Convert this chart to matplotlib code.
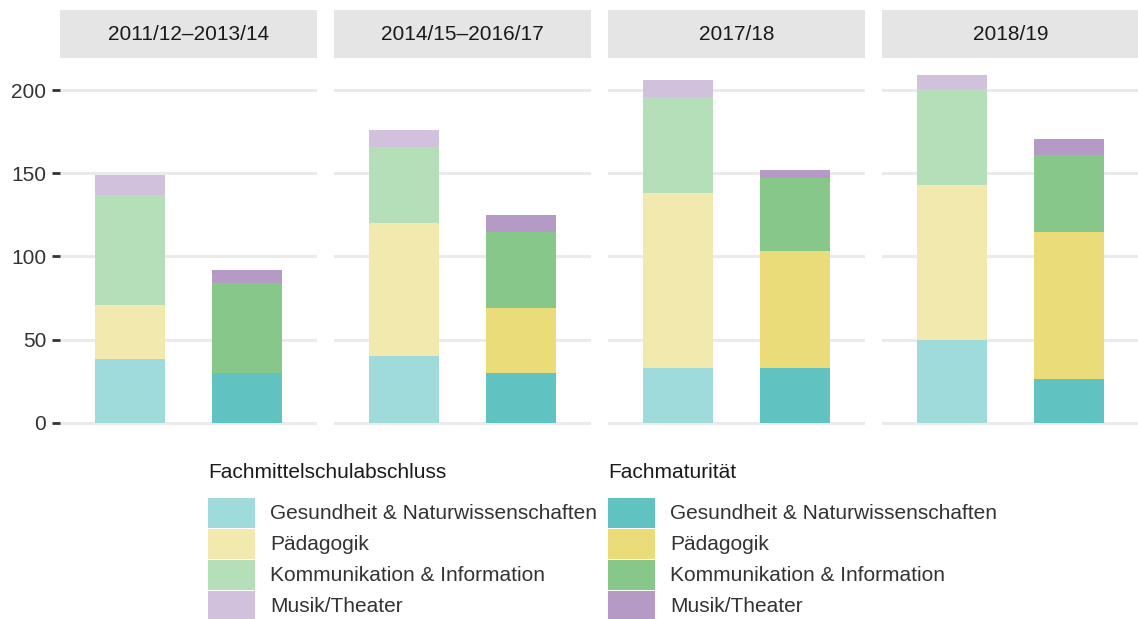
"""Fachmittelschulabschluss vs. Fachmaturität by period and field."""

import matplotlib.pyplot as plt
from matplotlib.patches import Rectangle

plt.rcParams["font.family"] = ["Liberation Sans", "DejaVu Sans"]

periods = ["2011/12–2013/14", "2014/15–2016/17", "2017/18", "2018/19"]
fields = [
    "Gesundheit & Naturwissenschaften",
    "Pädagogik",
    "Kommunikation & Information",
    "Musik/Theater",
]
groups = ["Fachmittelschulabschluss", "Fachmaturität"]

# values per period, stacked bottom to top in order of `fields`
fms_values = [
    [38, 33, 66, 12],
    [40, 80, 46, 10],
    [33, 105, 58, 10],
    [50, 93, 58, 8],
]
fm_values = [
    [30, 0, 54, 8],
    [30, 39, 46, 10],
    [33, 70, 44, 5],
    [26, 89, 46, 10],
]

fms_colors = ["#a0dbdb", "#f2e9ae", "#b4dfb8", "#d2c1dc"]
fm_colors = ["#61c2c2", "#ebdc7a", "#87c78a", "#b49ac4"]

FS = 15
W, H = 1138, 619
fig = plt.figure(figsize=(W / 100, H / 100), dpi=100)

panel_left = [60, 334, 608, 882]
panel_w = 257
panel_top, panel_bottom = 58, 440
strip_top = 10

ymax = max(sum(v) for v in fms_values + fm_values)
ylo, yhi = -0.05 * ymax, 1.05 * ymax

for i, period in enumerate(periods):
    x0 = panel_left[i]
    ax = fig.add_axes([x0 / W, 1 - panel_bottom / H, panel_w / W,
                       (panel_bottom - panel_top) / H])
    for j, (vals, cols) in enumerate(((fms_values[i], fms_colors),
                                      (fm_values[i], fm_colors))):
        bottom = 0
        for v, c in zip(vals, cols):
            ax.bar(j + 1, v, width=0.6, bottom=bottom, color=c, linewidth=0)
            bottom += v
    ax.set_xlim(0.4, 2.6)
    ax.set_ylim(ylo, yhi)
    ax.set_yticks([0, 50, 100, 150, 200])
    ax.set_xticks([])
    ax.grid(axis="y", color="#ebebeb", linewidth=2.2)
    ax.set_axisbelow(True)
    for s in ax.spines.values():
        s.set_visible(False)
    if i == 0:
        ax.tick_params(axis="y", length=6, width=2, color="#333333",
                       labelsize=FS, labelcolor="#333333", pad=4)
    else:
        ax.tick_params(axis="y", length=0, labelleft=False)

    # facet strip
    sax = fig.add_axes([x0 / W, 1 - panel_top / H, panel_w / W,
                        (panel_top - strip_top) / H])
    sax.set_facecolor("#e5e5e5")
    sax.set_xticks([])
    sax.set_yticks([])
    for s in sax.spines.values():
        s.set_visible(False)
    sax.text(0.5, 0.5, period, ha="center", va="center", fontsize=FS,
             color="#1a1a1a", transform=sax.transAxes)

# legends, one column per group
legend_x = [208, 608]
row_h = 31
first_row = 498
for g, (name, cols) in enumerate(zip(groups, (fms_colors, fm_colors))):
    lx = legend_x[g]
    fig.text(lx / W, 1 - 472 / H, name, ha="left", va="center",
             fontsize=FS, color="#1a1a1a")
    for k, (field, c) in enumerate(zip(fields, cols)):
        top = first_row + k * row_h
        fig.patches.append(Rectangle((lx / W, 1 - (top + row_h - 1) / H),
                                     47 / W, (row_h - 1) / H,
                                     transform=fig.transFigure,
                                     facecolor=c, edgecolor="none"))
        fig.text((lx + 62) / W, 1 - (top + row_h / 2) / H, field,
                 ha="left", va="center", fontsize=FS, color="#333333")

fig.savefig("out.png", dpi=100)
